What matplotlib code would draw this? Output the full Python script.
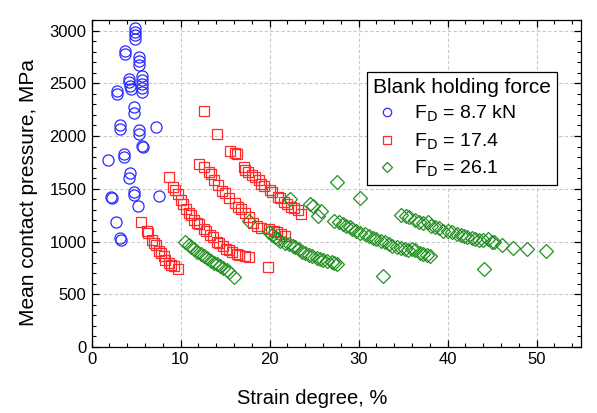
import matplotlib
matplotlib.use("Agg")
import matplotlib.pyplot as plt
from matplotlib.ticker import MultipleLocator

plt.rcParams['font.family'] = ['Liberation Sans', 'DejaVu Sans']

# ---- data (strain %, mean contact pressure MPa) ----
blue_x = [4.9, 4.9, 4.9, 4.9, 3.8, 3.8, 5.3, 5.3, 5.3, 4.2, 4.2, 4.3, 4.4,
          5.7, 5.7, 5.7, 5.7, 5.7, 2.9, 2.9, 4.8, 4.8, 3.2, 3.2, 5.3, 5.3,
          7.2, 5.7, 5.8, 3.7, 3.7, 1.8, 4.3, 4.2, 2.2, 2.3, 4.8, 4.8, 7.6,
          5.2, 2.8, 3.2, 3.3]
blue_y = [3020, 2990, 2960, 2920, 2810, 2775, 2750, 2710, 2670, 2545, 2510, 2470, 2445,
          2565, 2530, 2490, 2455, 2420, 2425, 2400, 2275, 2220, 2100, 2070, 2060, 2020,
          2085, 1910, 1895, 1830, 1800, 1775, 1650, 1600, 1420, 1410, 1465, 1440, 1430,
          1335, 1185, 1030, 1010]

red_x = [12.6, 14.1, 19.8,
         5.6, 6.2, 6.3, 6.8, 7.0, 7.2, 7.6, 7.8, 8.1, 8.3, 8.7, 8.9, 9.3, 9.7,
         8.7, 9.2, 9.4, 9.7, 10.0, 10.3, 10.6, 11.0, 11.2, 11.5, 11.8, 12.1, 12.6,
         12.9, 13.3, 13.7, 14.1, 14.3, 14.8, 15.1, 15.5, 15.8, 16.3, 16.6, 17.2, 17.7,
         12.1, 12.6, 13.2, 13.4, 13.8, 14.2, 14.7, 15.0, 15.5, 16.1, 16.5, 16.8,
         17.2, 17.7, 18.1, 18.6, 19.0, 19.9, 20.5, 20.8, 21.3, 21.7,
         15.6, 16.1, 16.4, 17.1, 17.3, 17.6, 18.0, 18.4, 18.8, 19.1, 19.4, 20.0,
         20.3, 20.9, 21.2, 21.6, 22.0, 22.4, 22.8, 23.2, 23.5]
red_y = [2235, 2020, 755,
         1185, 1100, 1080, 1015, 990, 965, 910, 890, 860, 825, 795, 780, 765, 735,
         1610, 1520, 1490, 1450, 1395, 1360, 1310, 1270, 1250, 1200, 1175, 1165, 1120,
         1100, 1060, 1040, 1000, 985, 960, 930, 915, 900, 880, 870, 860, 850,
         1737, 1706, 1658, 1640, 1580, 1540, 1480, 1460, 1410, 1366, 1330, 1304,
         1270, 1230, 1180, 1150, 1130, 1120, 1100, 1090, 1070, 1050,
         1855, 1840, 1830, 1706, 1680, 1658, 1630, 1611, 1580, 1550, 1530, 1490,
         1470, 1420, 1410, 1375, 1360, 1330, 1320, 1300, 1265]

green_x = [17.7, 22.3, 27.6, 30.2, 32.8, 44.1,
           10.5, 10.9, 11.2, 11.5, 11.9, 12.3, 12.6, 13.0, 13.4, 13.8, 14.1, 14.4,
           14.8, 15.2, 15.5, 16.0,
           19.9, 20.3, 20.6, 21.0, 21.2, 21.7, 22.2, 22.6, 22.9, 23.3, 23.6, 24.0,
           24.4, 24.8, 25.3, 25.7, 26.0, 26.5, 27.0, 27.3, 27.6,
           24.5, 24.9, 25.8, 25.4,
           27.2, 27.8, 28.3, 28.6, 29.0, 29.3, 29.7, 30.2, 30.7, 31.2, 31.6, 32.0,
           32.5, 33.0, 33.4, 33.8, 34.3, 34.8, 35.2, 35.6, 36.0, 36.4, 36.9, 37.3,
           37.7, 38.0,
           34.8, 35.3, 35.7, 36.3, 36.8, 37.3, 37.8, 38.2, 38.6, 39.1, 39.5, 40.0,
           40.5, 41.1, 41.5, 41.8, 42.2, 42.7, 43.1, 43.5, 44.0, 44.5, 45.0, 45.2,
           46.1, 47.4, 48.9, 51.1]
green_y = [1190, 1405, 1560, 1410, 670, 740,
           1000, 965, 945, 930, 900, 880, 865, 840, 820, 800, 785, 765,
           745, 730, 715, 660,
           1087, 1060, 1040, 1025, 1009, 990, 979, 960, 949, 930, 904, 890,
           873, 860, 843, 835, 828, 813, 805, 798, 789,
           1360, 1335, 1292, 1245,
           1195, 1185, 1170, 1150, 1135, 1115, 1100, 1085, 1070, 1050, 1030, 1020,
           1008, 995, 975, 958, 945, 935, 925, 920, 930, 915, 895, 880,
           870, 860,
           1255, 1240, 1229, 1200, 1181, 1175, 1181, 1151, 1140, 1130, 1100, 1100,
           1090, 1069, 1060, 1054, 1039, 1030, 1024, 1010, 1015, 1020, 1000, 994,
           964, 940, 925, 910]

series_labels = [r'F$_\mathrm{D}$ = 8.7 kN', r'F$_\mathrm{D}$ = 17.4', r'F$_\mathrm{D}$ = 26.1']
legend_title = 'Blank holding force'
x_label = 'Strain degree, %'
y_label = 'Mean contact pressure, MPa'

fig = plt.figure(figsize=(5.97, 4.13), dpi=100)
ax = fig.add_axes([91.5 / 597, 1 - 347 / 413, (581 - 91.5) / 597, (347 - 20) / 413])

ax.grid(True, which='major', color='#c8c8c8', linestyle=(0, (3, 2)), linewidth=0.8)
ax.set_axisbelow(True)

ax.plot(blue_x, blue_y, linestyle='none', marker='o', markersize=8.0,
        markerfacecolor='none', markeredgecolor='#2a2aff', markeredgewidth=0.9,
        label=series_labels[0])
ax.plot(red_x, red_y, linestyle='none', marker='s', markersize=7.7,
        markerfacecolor='none', markeredgecolor='#ff2a2a', markeredgewidth=0.9,
        label=series_labels[1])
ax.plot(green_x, green_y, linestyle='none', marker='D', markersize=6.9,
        markerfacecolor='none', markeredgecolor='#239023', markeredgewidth=0.9,
        label=series_labels[2])

ax.set_xlim(0, 55)
ax.set_ylim(0, 3100)
ax.xaxis.set_major_locator(MultipleLocator(10))
ax.xaxis.set_minor_locator(MultipleLocator(2))
ax.yaxis.set_major_locator(MultipleLocator(500))
ax.yaxis.set_minor_locator(MultipleLocator(100))
ax.tick_params(which='both', direction='in', top=True, right=True, labelsize=12)
ax.tick_params(which='major', length=5, width=0.9)
ax.tick_params(which='minor', length=3, width=0.8)
for s in ax.spines.values():
    s.set_linewidth(0.9)

ax.set_xlabel(x_label, fontsize=14.5)
ax.xaxis.set_label_coords((312 - 91.5) / 489.5, -(389 - 347) / 327)
ax.set_ylabel(y_label, fontsize=15)
ax.yaxis.set_label_coords(-(91.5 - 38) / 489.5, (347 - 192.5) / 327)

leg = ax.legend(title=legend_title, loc='upper left', bbox_to_anchor=(0.563, 0.841),
                fontsize=14, title_fontsize=15, frameon=True, fancybox=False,
                edgecolor='black', framealpha=1, handletextpad=0.7, borderpad=0.3,
                borderaxespad=0, labelspacing=0.37, handlelength=1.4, markerscale=0.75)
leg._legend_box.align = 'left'
leg.get_frame().set_linewidth(0.9)

fig.savefig('out.png', dpi=100)
